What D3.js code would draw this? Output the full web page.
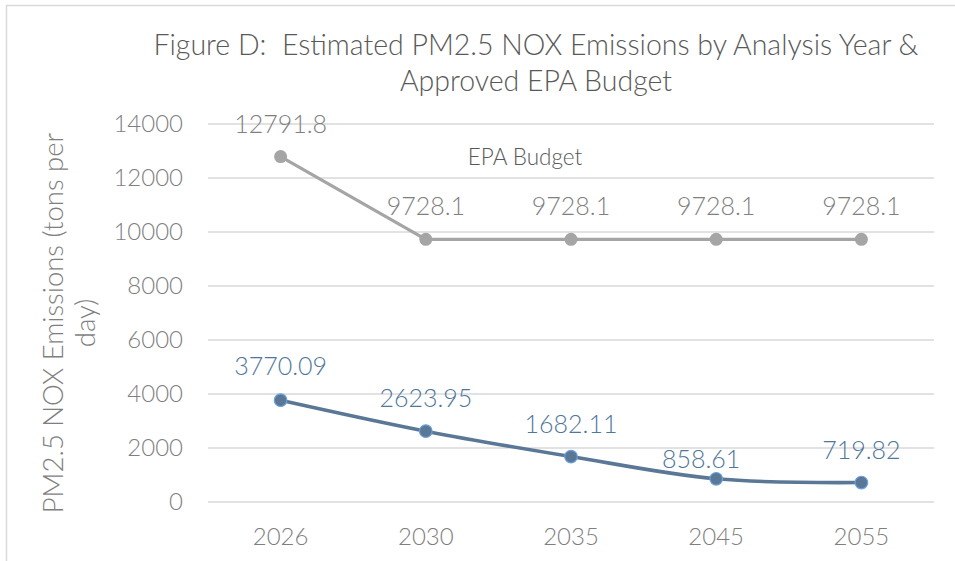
<!DOCTYPE html>
<html>
<head>
<meta charset="utf-8">
<script src="https://cdn.jsdelivr.net/npm/d3@7"></script>
<style>
  html, body { margin: 0; padding: 0; background: #ffffff; }
  svg { display: block; font-family: Lato, "Open Sans", sans-serif; }
  .pre { white-space: pre; }
</style>
</head>
<body>
<svg id="chart" width="955" height="561"></svg>
<script>
// ---- data ----
const years = ["2026", "2030", "2035", "2045", "2055"];
const budgetValues = [12791.8, 9728.1, 9728.1, 9728.1, 9728.1];
const emissionValues = [3770.09, 2623.95, 1682.11, 858.61, 719.82];
const yTicks = [0, 2000, 4000, 6000, 8000, 10000, 12000, 14000];
const titleLines = ["Figure D:  Estimated PM2.5 NOX Emissions by Analysis Year &", "Approved EPA Budget"];
const yTitleLines = ["PM2.5 NOX Emissions (tons per", "day)"];
const budgetName = "EPA Budget";

// ---- layout ----
const svg = d3.select("#chart");
const plot = { left: 208, right: 934, top: 124, bottom: 502 };

const x = d3.scaleBand().domain(years).range([plot.left, plot.right]).padding(0);
const y = d3.scaleLinear().domain([0, 14000]).range([plot.bottom, plot.top]);
const cx = d => x(d) + x.bandwidth() / 2;

// chart border
svg.append("rect")
  .attr("x", 6.5).attr("y", 5.5).attr("width", 1200).attr("height", 1200)
  .attr("fill", "none").attr("stroke", "#d9d9d9").attr("stroke-width", 1.5);

// title
svg.append("text")
  .attr("class", "pre")
  .attr("x", 536).attr("y", 55)
  .attr("text-anchor", "middle")
  .attr("font-size", 28.5).attr("font-weight", 300).attr("fill", "#595959")
  .selectAll("tspan").data(titleLines).join("tspan")
  .attr("x", 536).attr("dy", (d, i) => i === 0 ? 0 : 36)
  .text(d => d);

// gridlines
svg.append("g").selectAll("line").data(yTicks).join("line")
  .attr("x1", plot.left).attr("x2", plot.right)
  .attr("y1", d => y(d)).attr("y2", d => y(d))
  .attr("stroke", "#d9d9d9").attr("stroke-width", 1.5);

// y axis
const yAxis = d3.axisLeft(y).tickValues(yTicks).tickSize(0).tickPadding(0).tickFormat(d3.format("d"));
const gy = svg.append("g").attr("transform", `translate(${plot.left - 25},0)`).call(yAxis);
gy.select(".domain").remove();
gy.selectAll("text").attr("font-size", 24).attr("font-weight", 300).attr("fill", "#7f7f7f")
  .attr("font-family", "Lato, sans-serif");

// x axis
const xAxis = d3.axisBottom(x).tickSize(0).tickPadding(0);
const gx = svg.append("g").attr("transform", `translate(0,${plot.bottom})`).call(xAxis);
gx.select(".domain").remove();
gx.selectAll("text").attr("font-size", 24).attr("font-weight", 300).attr("fill", "#7f7f7f")
  .attr("font-family", "Lato, sans-serif")
  .attr("dy", null).attr("y", 43);

// y axis title
svg.append("text")
  .attr("transform", `translate(63,${(plot.top + plot.bottom) / 2 + 10}) rotate(-90)`)
  .attr("text-anchor", "middle")
  .attr("font-size", 27.5).attr("font-weight", 300).attr("fill", "#7f7f7f")
  .selectAll("tspan").data(yTitleLines).join("tspan")
  .attr("x", 0).attr("dy", (d, i) => i === 0 ? 0 : 32)
  .text(d => d);

// budget series (straight)
const budget = years.map((yr, i) => ({ yr, v: budgetValues[i] }));
const emis = years.map((yr, i) => ({ yr, v: emissionValues[i] }));

svg.append("path").datum(budget)
  .attr("d", d3.line().x(d => cx(d.yr)).y(d => y(d.v)))
  .attr("fill", "none").attr("stroke", "#a5a5a5").attr("stroke-width", 3.2);

svg.append("g").selectAll("circle").data(budget).join("circle")
  .attr("cx", d => cx(d.yr)).attr("cy", d => y(d.v)).attr("r", 6.5)
  .attr("fill", "#a5a5a5");

svg.append("g").selectAll("text").data(budget).join("text")
  .attr("x", d => cx(d.yr)).attr("y", d => y(d.v) - 24)
  .attr("text-anchor", "middle")
  .attr("font-size", 25).attr("font-weight", 300).attr("fill", "#808080")
  .text(d => d3.format(".1f")(d.v));

svg.append("text")
  .attr("x", 525).attr("y", 165).attr("text-anchor", "middle")
  .attr("font-size", 22.5).attr("font-weight", 300).attr("fill", "#595959")
  .text(budgetName);

// emissions series (smoothed)
svg.append("path").datum(emis)
  .attr("d", d3.line().x(d => cx(d.yr)).y(d => y(d.v)).curve(d3.curveCardinal.tension(0)))
  .attr("fill", "none").attr("stroke", "#5a7896").attr("stroke-width", 3.6);

svg.append("g").selectAll("circle").data(emis).join("circle")
  .attr("cx", d => cx(d.yr)).attr("cy", d => y(d.v)).attr("r", 6.3)
  .attr("fill", "#5a7896").attr("stroke", "#6aa0dc").attr("stroke-width", 1.2);

// label nudges (2045 label sits lower-left in the original)
const labelDx = [0, 0, 0, -15, 0];
const labelDy = [-25, -24, -24, -11, -24];
svg.append("g").selectAll("text").data(emis).join("text")
  .attr("x", (d, i) => cx(d.yr) + labelDx[i]).attr("y", (d, i) => y(d.v) + labelDy[i])
  .attr("text-anchor", "middle")
  .attr("font-size", 25).attr("font-weight", 300).attr("fill", "#50769a")
  .text(d => d3.format(".2f")(d.v));
</script>
</body>
</html>
